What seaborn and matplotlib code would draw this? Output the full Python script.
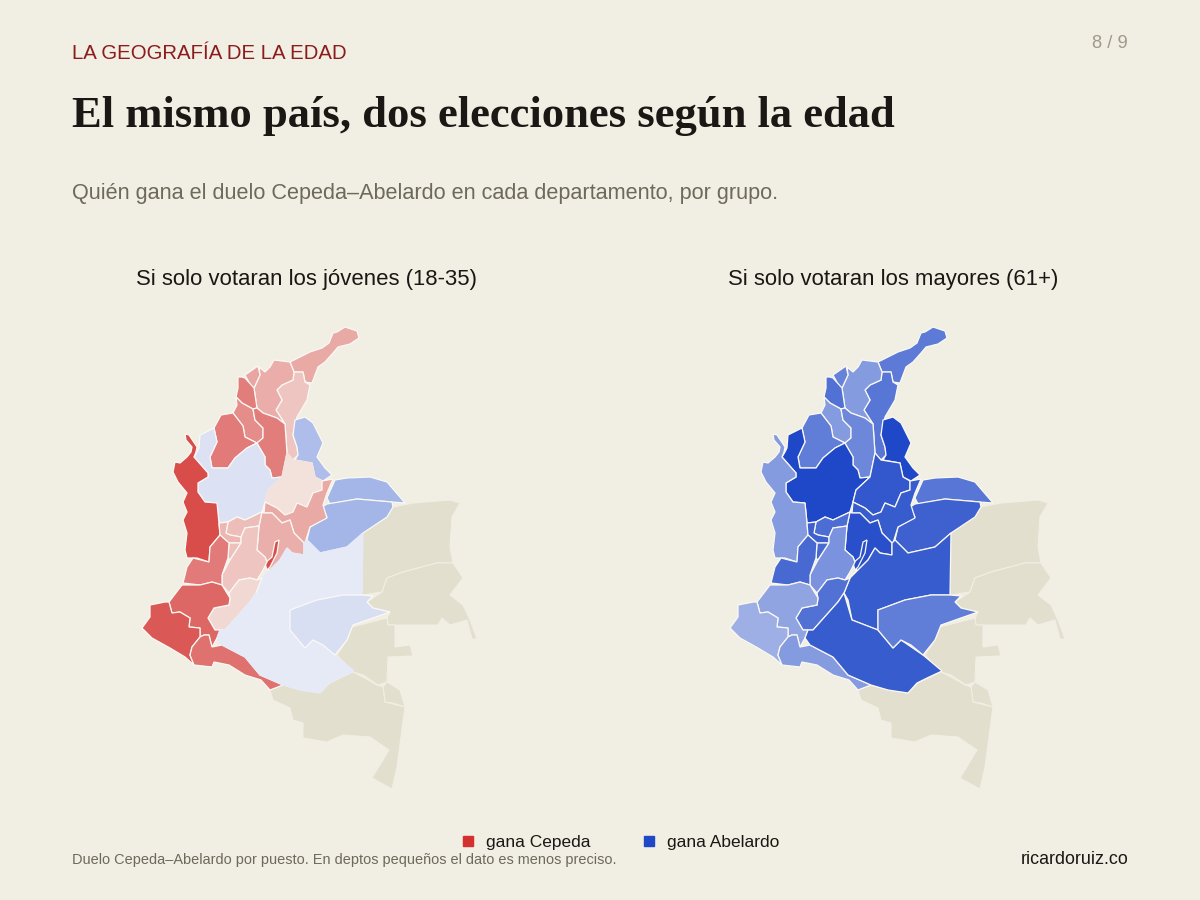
import matplotlib
matplotlib.use("Agg")
import matplotlib.pyplot as plt
import pandas as pd
import seaborn as sns
from matplotlib.lines import Line2D

BG = "#f1eee3"
TAN = "#e3dfcf"
RED = "#d3302f"
BLUE = "#1f48c8"

departamentos = ["Guajira", "Cesar", "Magdalena", "Atlantico", "Bolivar N", "Sucre", "Cordoba",
                 "Bolivar S", "NdeSantander", "Antioquia", "Choco", "Santander", "Arauca",
                 "Casanare", "Boyaca", "Cundinamarca", "Bogota", "Meta", "Caldas", "Risaralda",
                 "Quindio", "Tolima", "Huila", "Valle", "Cauca", "Narino", "Putumayo",
                 "Caqueta", "Guaviare"]
margen_jovenes = [0.35, 0.20, 0.33, 0.37, 0.58, 0.50, 0.60,
                  0.58, -0.30, -0.08, 0.85, 0.05, -0.35,
                  -0.35, 0.35, 0.32, 0.85, -0.03, 0.24, 0.28,
                  0.23, 0.20, 0.10, 0.60, 0.70, 0.78, 0.65,
                  -0.03, -0.10]
margen_mayores = [-0.70, -0.72, -0.50, -0.65, -0.75, -0.50, -0.68,
                  -0.62, -1.00, -1.00, -0.50, -0.90, -0.72,
                  -0.85, -0.88, -0.95, -0.95, -0.88, -0.78, -0.85,
                  -0.80, -0.55, -0.75, -0.80, -0.45, -0.38, -0.50,
                  -0.88, -0.68]

sin_dato = ["Vichada", "Guainia", "Vaupes", "Vaupes S", "Amazonas"]

# contornos (sin proyeccion disponible, calcados del mapa)
contornos = {
    "Guajira": [(290,362),(310,352),(322,348),(329,343),(333,333),(337,332),(345,327),(357,331),(359,338),(350,344),(338,347),(333,353),(325,362),(318,367),(312,383),(305,382),(303,372),(294,372)],
    "Cesar": [(294,372),(303,372),(305,382),(310,385),(307,400),(297,417),(295,427),(293,435),(297,447),(298,455),(293,460),(287,453),(285,424),(276,410),(282,400),(277,390),(282,385),(293,380)],
    "Magdalena": [(274,360),(290,362),(294,372),(293,380),(282,385),(277,390),(282,400),(276,410),(285,424),(277,418),(263,413),(257,408),(254,388),(260,375),(259,367),(265,372),(270,367)],
    "Atlantico": [(245,375),(258,366),(260,375),(254,388),(251,386)],
    "Bolivar N": [(238,377),(242,377),(245,378),(254,388),(257,408),(253,409),(242,403),(236,397),(238,388)],
    "Sucre": [(236,397),(242,403),(253,409),(255,420),(263,428),(263,438),(257,443),(245,437),(243,426),(233,413),(237,405)],
    "Cordoba": [(214,428),(221,415),(233,413),(243,426),(245,437),(257,443),(247,448),(235,458),(228,468),(212,468),(210,457),(217,442)],
    "Bolivar S": [(253,409),(257,408),(263,413),(277,418),(285,424),(287,453),(282,477),(272,478),(270,470),(265,465),(265,457),(258,445),(257,443),(263,438),(263,428),(255,420)],
    "NdeSantander": [(295,420),(305,417),(313,423),(323,443),(317,457),(325,468),(332,475),(323,481),(315,477),(312,463),(295,460),(298,455),(297,447),(293,435)],
    "Antioquia": [(194,457),(197,452),(199,448),(200,435),(214,428),(217,442),(210,457),(212,468),(228,468),(235,458),(247,448),(257,443),(258,445),(265,457),(265,465),(270,470),(272,478),(282,477),(268,490),(265,502),(262,512),(245,520),(237,517),(228,522),(219,523),(217,503),(205,502),(198,492),(198,483),(208,477),(208,473)],
    "Choco": [(185,434),(189,435),(197,447),(196,452),(194,457),(208,473),(208,477),(198,483),(198,492),(205,502),(217,503),(219,523),(220,535),(210,547),(209,562),(197,558),(187,558),(185,550),(187,533),(183,520),(187,512),(183,502),(187,493),(178,482),(173,472),(175,462),(180,463),(187,457),(191,452),(192,447),(186,440)],
    "Santander": [(282,477),(287,453),(293,460),(312,463),(315,477),(322,481),(322,490),(313,493),(307,507),(297,503),(293,512),(285,515),(277,508),(265,502),(268,490)],
    "Arauca": [(335,480),(347,478),(370,477),(387,482),(405,503),(392,502),(357,499),(330,504),(327,498)],
    "Casanare": [(327,504),(357,499),(392,502),(393,507),(387,517),(363,533),(347,547),(320,553),(307,540),(310,527),(327,517),(322,507)],
    "Boyaca": [(333,479),(327,493),(323,505),(327,518),(310,527),(305,543),(304,543),(294,533),(290,520),(282,523),(272,513),(264,513),(265,502),(277,508),(285,515),(293,512),(297,503),(307,507),(313,493),(322,490),(322,481)],
    "Cundinamarca": [(262,512),(264,513),(272,513),(282,523),(290,520),(294,533),(304,543),(304,555),(292,553),(287,548),(280,560),(269,571),(267,562),(265,557),(257,550),(259,526)],
    "Bogota": [(275,542),(279,540),(277,553),(270,567),(267,570),(265,563),(272,557)],
    "Meta": [(304,543),(307,540),(320,553),(347,547),(363,533),(362,595),(343,595),(317,600),(290,610),(290,630),(264,620),(260,600),(256,593),(262,578),(269,571),(280,560),(287,548),(292,553),(304,555)],
    "Caldas": [(228,522),(237,517),(245,520),(262,512),(259,526),(245,528),(241,537),(230,535),(226,533)],
    "Risaralda": [(219,523),(228,522),(226,533),(230,535),(241,537),(241,543),(229,543),(220,535)],
    "Quindio": [(229,543),(241,543),(230,560),(228,558)],
    "Tolima": [(241,537),(245,528),(259,526),(257,550),(265,557),(267,562),(262,572),(257,580),(250,578),(239,580),(229,593),(222,585),(222,575),(230,560),(241,543)],
    "Huila": [(229,593),(239,580),(250,578),(257,580),(262,578),(256,593),(250,602),(225,630),(215,630),(208,618),(214,608),(229,605),(230,598)],
    "Valle": [(209,562),(210,547),(220,535),(229,543),(228,558),(222,575),(222,585),(212,582),(200,585),(183,583),(187,567),(193,558)],
    "Cauca": [(169,602),(182,585),(200,585),(212,582),(222,585),(230,598),(229,605),(214,608),(208,618),(215,630),(220,630),(217,638),(212,647),(209,635),(204,635),(200,637),(200,628),(189,627),(190,618),(180,612),(172,613)],
    "Narino": [(142,628),(150,617),(150,605),(165,602),(169,602),(172,613),(180,612),(190,618),(189,627),(200,628),(200,637),(192,647),(190,655),(194,665),(185,657),(170,648),(152,638)],
    "Putumayo": [(200,637),(204,635),(209,635),(212,647),(222,645),(245,657),(260,675),(283,685),(270,690),(261,680),(245,675),(229,665),(214,662),(212,667),(194,665),(190,655),(192,647)],
    "Caqueta": [(256,593),(264,620),(290,630),(305,648),(313,640),(335,655),(354,671),(339,678),(329,683),(320,693),(300,690),(283,685),(260,675),(245,657),(222,645),(217,638),(220,630),(225,630),(250,602)],
    "Guaviare": [(362,595),(373,596),(367,602),(373,608),(390,612),(353,625),(347,640),(335,655),(323,645),(313,640),(305,648),(290,630),(290,610),(317,600),(343,595)],
    "Vichada": [(362,533),(393,507),(413,503),(450,500),(460,503),(452,517),(450,547),(453,563),(437,563),(403,572),(387,578),(382,592),(362,595)],
    "Guainia": [(437,563),(453,563),(463,578),(450,595),(463,605),(470,620),(477,639),(472,639),(467,620),(450,625),(442,618),(438,625),(388,625),(387,618),(390,612),(373,608),(367,602),(382,592),(387,578),(403,572)],
    "Vaupes": [(387,618),(388,625),(395,625),(395,647),(410,645),(413,656),(388,657),(387,682),(378,685),(363,675),(353,672),(337,655),(347,640),(352,627)],
    "Vaupes S": [(387,682),(400,690),(405,707),(393,703),(385,702),(383,687)],
    "Amazonas": [(270,690),(283,685),(300,690),(320,693),(330,683),(353,672),(363,677),(377,685),(383,687),(385,702),(405,707),(397,767),(392,789),(372,778),(389,750),(370,737),(343,735),(327,742),(303,738),(303,723),(293,720),(290,708),(273,700)],
}

df = pd.DataFrame({"depto": departamentos, "jovenes": margen_jovenes, "mayores": margen_mayores})

sns.set_theme(style="white", rc={"figure.facecolor": BG, "axes.facecolor": BG})
plt.rcParams["font.family"] = ["Liberation Sans", "DejaVu Sans"]

cmap_rojo = sns.blend_palette(["#f5eae5", RED], as_cmap=True)
cmap_azul = sns.blend_palette(["#eceff8", BLUE], as_cmap=True)


def dibujar_mapa(ax, columna):
    for nombre in sin_dato:
        xs, ys = zip(*contornos[nombre])
        ax.fill(xs, ys, facecolor=TAN, edgecolor="#f1eee3", linewidth=0.8)
    for _, fila in df.iterrows():
        xs, ys = zip(*contornos[fila["depto"]])
        m = fila[columna]
        color = cmap_rojo(m) if m > 0 else cmap_azul(-m)
        borde = color if abs(m) <= 0.05 else "#fbf9f4"
        ax.fill(xs, ys, facecolor=color, edgecolor=borde, linewidth=0.9)
    ax.set_xlim(130, 490)
    ax.set_ylim(800, 320)
    ax.axis("off")


fig = plt.figure(figsize=(12, 9), dpi=100)
ax1 = fig.add_axes([130 / 1200, 100 / 900, 360 / 1200, 480 / 900])
ax2 = fig.add_axes([718 / 1200, 100 / 900, 360 / 1200, 480 / 900])
dibujar_mapa(ax1, "jovenes")
dibujar_mapa(ax2, "mayores")


def texto(x, y, s, **kw):
    fig.text(x / 1200, 1 - y / 900, s, va="center", **kw)


texto(72, 53.5, "LA GEOGRAFÍA DE LA EDAD", fontsize=14.63, color="#8c1c1c")
texto(72, 116, "El mismo país, dos elecciones según la edad", fontsize=32.1,
      color="#1a1714", fontweight="bold", family=["Liberation Serif"])
texto(72, 194, "Quién gana el duelo Cepeda–Abelardo en cada departamento, por grupo.",
      fontsize=15.57, color="#6d6a5c")
texto(306, 279, "Si solo votaran los jóvenes (18-35)", fontsize=15.97, color="#1a1714", ha="center")
texto(893.5, 279, "Si solo votaran los mayores (61+)", fontsize=15.97, color="#1a1714", ha="center")
texto(1128, 44, "8 / 9", fontsize=13.2, color="#a09a8b", ha="right")
texto(72, 860, "Duelo Cepeda–Abelardo por puesto. En deptos pequeños el dato es menos preciso.",
      fontsize=10.46, color="#6d6a5c")
texto(1128, 860, "ricardoruiz.co", fontsize=12.9, color="#1a1714", ha="right")

handles = [Line2D([], [], marker="s", linestyle="", markersize=6.5, color=RED, label="gana Cepeda"),
           Line2D([], [], marker="s", linestyle="", markersize=6.5, color=BLUE, label="gana Abelardo")]
fig.legend(handles=handles, loc="center", bbox_to_anchor=(615 / 1200, 1 - 842 / 900), ncol=2,
           frameon=False, fontsize=12.5, labelcolor="#1a1714", handletextpad=0.0, columnspacing=2.4)

fig.savefig("out.png", dpi=100, facecolor=BG)
